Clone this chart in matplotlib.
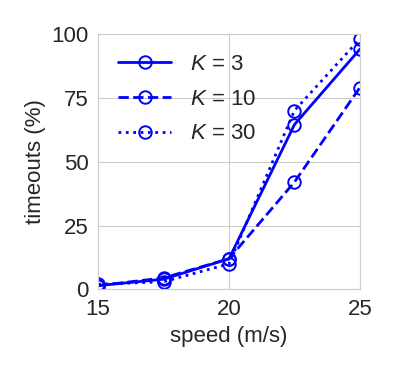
import matplotlib
matplotlib.use('Agg')
import matplotlib.pyplot as plt
import seaborn as sns

sns.set_style('whitegrid')
plt.rcParams['font.family'] = ['Liberation Sans', 'DejaVu Sans']
plt.rcParams['mathtext.fontset'] = 'custom'
plt.rcParams['mathtext.rm'] = 'Liberation Sans'
plt.rcParams['mathtext.it'] = 'Liberation Sans:italic'

speed = [15, 17.5, 20, 22.5, 25]
k3 = [1.5, 4, 12, 64.5, 94]
k10 = [1.5, 4.5, 12, 42, 79]
k30 = [2, 3, 10, 70, 98]

fig = plt.figure(figsize=(3.99, 3.72), dpi=100)
ax = fig.add_axes([0.246, 0.222, 0.656, 0.687])

style = dict(color='b', marker='o', markersize=9, markerfacecolor='none',
             markeredgewidth=1.4, linewidth=2)
ax.plot(speed, k3, linestyle='-', label='$K$ = 3', **style)
ax.plot(speed, k10, linestyle='--', label='$K$ = 10', **style)
ax.plot(speed, k30, linestyle=':', label='$K$ = 30', **style)

ax.set_xlim(15, 25)
ax.set_ylim(0, 100)
ax.set_xticks([15, 20, 25])
ax.set_yticks([0, 25, 50, 75, 100])
ax.tick_params(labelsize=16, pad=3.5)
ax.set_xlabel('speed (m/s)', fontsize=16, labelpad=4.5)
ax.set_ylabel('timeouts (%)', fontsize=16, labelpad=4)
ax.legend(loc='upper left', fontsize=16, frameon=False, handlelength=2.4,
          handletextpad=0.85, labelspacing=0.62, borderaxespad=0.5)

fig.savefig('out.png', dpi=100)
